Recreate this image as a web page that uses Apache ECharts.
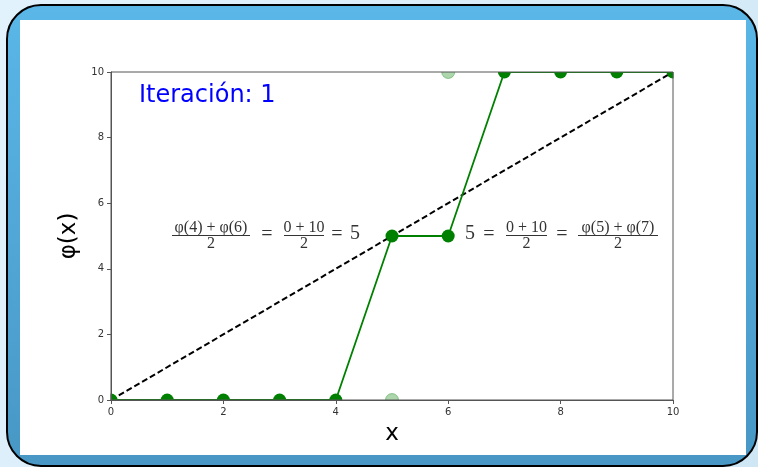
<!DOCTYPE html>
<html>
<head>
<meta charset="utf-8">
<title>Iteración: 1</title>
<script src="https://cdn.jsdelivr.net/npm/echarts@6/dist/echarts.min.js"></script>
<style>
  html, body { margin: 0; padding: 0; }
  #chart { width: 758px; height: 467px; }
</style>
</head>
<body>
<div id="chart"></div>
<script>
// Values of phi after the first averaging pass
const xValues = [0, 1, 2, 3, 4, 5, 6, 7, 8, 9, 10];
const phiValues = [0, 0, 0, 0, 0, 5, 5, 10, 10, 10, 10];
// Values that were replaced in this pass (drawn faded)
const oldX = [5, 6];
const oldPhi = [0, 10];
// Reference line phi = x
const diagX = [0, 10];
const diagY = [0, 10];
// Axis range and tick step
const axisMin = 0;
const axisMax = 10;
const tickStep = 2;
const iterationLabel = 'Iteración: 1';

// Plot area in pixels
const plot = { left: 111, top: 72, width: 562, height: 328 };

const chart = echarts.init(document.getElementById('chart'), null, { renderer: 'canvas' });

const serif = '"Liberation Serif", "DejaVu Serif", serif';
const sans = '"DejaVu Sans", sans-serif';
const inkColor = '#333';

function textEl(text, x, y, size, opts) {
  opts = opts || {};
  return {
    type: 'text', x: x, y: y, z: 9, silent: true,
    style: {
      text: text,
      font: (opts.weight || 'normal') + ' ' + size + 'px ' + (opts.family || serif),
      fill: opts.color || inkColor,
      align: opts.align || 'center', textAlign: opts.align || 'center',
      verticalAlign: 'middle', textVerticalAlign: 'middle'
    }
  };
}

// A stacked fraction: numerator, bar, denominator
function fraction(cx, barY, num, den, barWidth) {
  return [
    textEl(num, cx, barY - 8, 16),
    {
      type: 'line', z: 9, silent: true,
      shape: { x1: cx - barWidth / 2, y1: barY, x2: cx + barWidth / 2, y2: barY },
      style: { stroke: inkColor, lineWidth: 1 }
    },
    textEl(den, cx, barY + 8.5, 16)
  ];
}

const barY = 235.5;
const formulaLeft = [].concat(
  fraction(211, barY, 'φ(4) + φ(6)', '2', 78),
  [textEl('=', 267, 235, 20)],
  fraction(304, barY, '0 + 10', '2', 40),
  [textEl('=', 337, 235, 20), textEl('5', 355, 234, 20)]
);
const formulaRight = [].concat(
  [textEl('5', 470, 234, 20), textEl('=', 489, 235, 20)],
  fraction(526.5, barY, '0 + 10', '2', 41),
  [textEl('=', 562, 235, 20)],
  fraction(618, barY, 'φ(5) + φ(7)', '2', 80)
);

// White strips just outside the plot area so markers sitting on the frame are cut off
const pad = 10;
const covers = [
  { x: plot.left - pad, y: plot.top - pad, width: plot.width + 2 * pad, height: pad },
  { x: plot.left - pad, y: plot.top + plot.height + 0.5, width: plot.width + 2 * pad, height: pad },
  { x: plot.left - pad, y: plot.top - pad, width: pad - 0.5, height: plot.height + 2 * pad },
  { x: plot.left + plot.width + 0.5, y: plot.top - pad, width: pad, height: plot.height + 2 * pad }
].map(function (s) {
  return { type: 'rect', z: 6, silent: true, shape: s, style: { fill: '#ffffff' } };
});

const frame = [
  {
    type: 'rect', z: 0, silent: true,
    shape: { x: 7, y: 5, width: 750, height: 461, r: 34 },
    style: {
      fill: new echarts.graphic.LinearGradient(0, 0, 0, 1, [
        { offset: 0, color: '#5ab7e8' },
        { offset: 1, color: '#4897c5' }
      ]),
      stroke: '#000', lineWidth: 2
    }
  },
  {
    type: 'rect', z: 1, silent: true,
    shape: { x: 20, y: 20, width: 726, height: 435 },
    style: { fill: '#ffffff' }
  }
];

const axisCommon = {
  type: 'value',
  min: axisMin, max: axisMax, interval: tickStep,
  z: 8,
  splitLine: { show: false },
  axisLine: { show: true, lineStyle: { color: '#555', width: 1 } },
  axisTick: { show: true, inside: false, length: 4, lineStyle: { color: '#555', width: 1 } },
  axisLabel: { color: inkColor, fontSize: 10, fontFamily: sans, margin: 7 },
  nameLocation: 'middle',
  nameTextStyle: { color: '#000', fontSize: 23, fontFamily: sans }
};

const option = {
  backgroundColor: new echarts.graphic.LinearGradient(0, 0, 1, 1, [
    { offset: 0, color: '#e2f2fc' },
    { offset: 1, color: '#cfe7f5' }
  ]),
  animation: false,
  grid: {
    left: plot.left, top: plot.top, width: plot.width, height: plot.height,
    show: true, borderColor: '#555', borderWidth: 1, backgroundColor: 'transparent', z: 8
  },
  xAxis: Object.assign({}, axisCommon, { name: 'x', nameGap: 23 }),
  yAxis: Object.assign({}, axisCommon, { name: 'φ(x)', nameGap: 28 }),
  graphic: { elements: frame.concat(covers, formulaLeft, formulaRight, [
    textEl(iterationLabel, 139, 96, 24, { align: 'left', family: sans, color: '#0000ff' })
  ]) },
  series: [
    {
      type: 'line', z: 3,
      data: diagX.map(function (x, i) { return [x, diagY[i]]; }),
      showSymbol: false, symbol: 'none',
      lineStyle: { color: '#000', width: 2, type: [6, 3] },
      clip: false, silent: true
    },
    {
      type: 'scatter', z: 4,
      data: oldX.map(function (x, i) { return [x, oldPhi[i]]; }),
      symbol: 'circle', symbolSize: 13,
      itemStyle: { color: 'rgba(0,128,0,0.4)', borderColor: 'rgba(0,128,0,0.45)', borderWidth: 1 },
      clip: false, silent: true
    },
    {
      type: 'line', z: 5,
      data: xValues.map(function (x, i) { return [x, phiValues[i]]; }),
      symbol: 'circle', symbolSize: 13, showAllSymbol: true,
      lineStyle: { color: '#008000', width: 1.8 },
      itemStyle: { color: '#008000', borderWidth: 0 },
      clip: false, silent: true
    }
  ]
};

chart.setOption(option);
</script>
</body>
</html>
